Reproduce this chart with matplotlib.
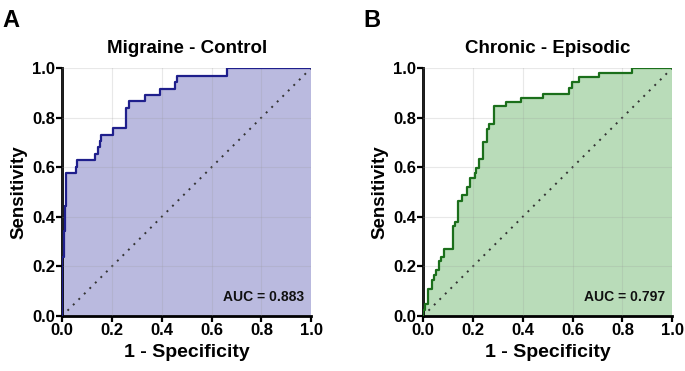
import matplotlib.pyplot as plt

# Panel A: Migraine vs Control (ROC staircase corners)
fpr_a = [0, 0, 0.007, 0.012, 0.017, 0.057, 0.062, 0.134, 0.143, 0.151, 0.158,
         0.205, 0.255, 0.267, 0.332, 0.392, 0.452, 0.461, 0.663, 1.0]
tpr_a = [0, 0.237, 0.344, 0.444, 0.575, 0.600, 0.628, 0.655, 0.682, 0.707, 0.731,
         0.758, 0.838, 0.865, 0.892, 0.916, 0.943, 0.969, 1.0, 1.0]

# Panel B: Chronic vs Episodic
fpr_b = [0, 0, 0.009, 0.020, 0.036, 0.044, 0.053, 0.064, 0.073, 0.084, 0.120,
         0.129, 0.140, 0.157, 0.176, 0.190, 0.207, 0.213, 0.223, 0.240, 0.256,
         0.263, 0.284, 0.333, 0.393, 0.480, 0.587, 0.597, 0.624, 0.707, 0.837, 1.0]
tpr_b = [0, 0.024, 0.050, 0.108, 0.146, 0.166, 0.186, 0.220, 0.240, 0.270, 0.362,
         0.378, 0.464, 0.486, 0.520, 0.558, 0.576, 0.595, 0.632, 0.700, 0.754,
         0.774, 0.845, 0.862, 0.878, 0.895, 0.917, 0.944, 0.964, 0.981, 1.0, 1.0]

panels = [
    ("A", "Migraine - Control", fpr_a, tpr_a, "0.883", "#1f1f8c", "#babadf"),
    ("B", "Chronic - Episodic", fpr_b, tpr_b, "0.797", "#1b6f1b", "#b9dcb9"),
]
ticks = [0.0, 0.2, 0.4, 0.6, 0.8, 1.0]

plt.rcParams["font.family"] = ["Liberation Sans", "DejaVu Sans"]
plt.rcParams["font.weight"] = "bold"

fig = plt.figure(figsize=(6.85, 3.71), dpi=100)
lefts = [0.0905, 0.6175]

for left, (letter, title, fpr, tpr, auc, line_c, fill_c) in zip(lefts, panels):
    ax = fig.add_axes([left, 0.148, 0.364, 0.669])
    ax.fill_between(fpr, tpr, 0, step="post", color=fill_c, lw=0, zorder=1)
    ax.plot(fpr, tpr, drawstyle="steps-post", color=line_c, lw=1.6, zorder=3)
    ax.plot([0, 1], [0, 1], color="#333333", ls=(0, (1, 3)), lw=1.4, zorder=2)
    ax.grid(True, color="#999999", alpha=0.22, lw=0.8, zorder=0)
    ax.set_axisbelow(False)
    ax.set_xlim(0, 1)
    ax.set_ylim(0, 1)
    ax.set_xticks(ticks)
    ax.set_yticks(ticks)
    ax.set_xticklabels([f"{t:.1f}" for t in ticks])
    ax.set_yticklabels([f"{t:.1f}" for t in ticks])
    ax.tick_params(direction="out", length=4, width=1.6, labelsize=12, pad=1)
    for s in ["top", "right"]:
        ax.spines[s].set_visible(False)
    for s in ["left", "bottom"]:
        ax.spines[s].set_linewidth(2)
    ax.set_xlabel("1 - Specificity", fontsize=14, fontweight="bold", labelpad=4)
    ax.set_ylabel("Sensitivity", fontsize=13.5, fontweight="bold", labelpad=3)
    ax.set_title(title, fontsize=13.5, fontweight="bold", pad=11)
    ax.text(0.97, 0.05, f"AUC = {auc}", transform=ax.transAxes, ha="right",
            va="bottom", fontsize=10, fontweight="bold", color="#111111", zorder=4)
    fig.text(left - 0.087, 0.975, letter, fontsize=17, fontweight="bold",
             ha="left", va="top")

fig.savefig("out.png", dpi=100)
